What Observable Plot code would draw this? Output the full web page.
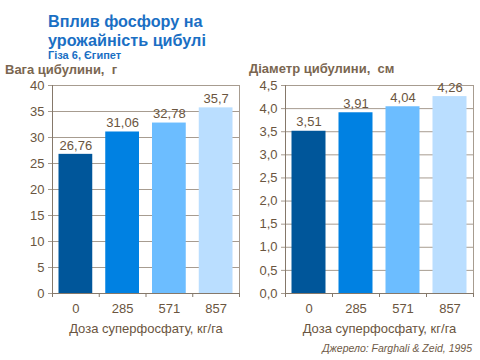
<!DOCTYPE html>
<html>
<head>
<meta charset="utf-8">
<script src="https://cdn.jsdelivr.net/npm/d3@7"></script>
<script src="https://cdn.jsdelivr.net/npm/@observablehq/plot@0.6"></script>
<style>
  html, body { margin: 0; padding: 0; background: #fff; }
  #root { position: relative; width: 480px; height: 360px; overflow: hidden; font-family: "Liberation Sans", Arial, sans-serif; }
  .abs { position: absolute; white-space: nowrap; }
  #title { left: 48px; top: 12px; font-size: 16.2px; font-weight: bold; color: #1A6FC4; line-height: 18.5px; }
  #subtitle { left: 48px; top: 49px; font-size: 11px; font-weight: bold; color: #1A6FC4; line-height: 12px; }
  .ylab { font-size: 13px; font-weight: bold; color: #7A6650; }
  #source { right: 8px; top: 342px; font-size: 10.5px; font-style: italic; color: #6E5A46; }
  .chart { position: absolute; top: 80px; }
</style>
</head>
<body>
<div id="root">
  <div id="title" class="abs">Вплив фосфору на<br>урожайність цибулі</div>
  <div id="subtitle" class="abs">Гіза 6, Єгипет</div>
  <div class="abs ylab" style="left:5px; top:62px;">Вага цибулини,&nbsp; г</div>
  <div class="abs ylab" style="left:249px; top:61px;">Діаметр цибулини,&nbsp; см</div>
  <div id="left" class="chart" style="left:0px;"></div>
  <div id="right" class="chart" style="left:240px;"></div>
  <div id="source" class="abs">Джерело: Farghali &amp; Zeid, 1995</div>
</div>
<script>
const doses = ["0", "285", "571", "857"];
const weight = [26.76, 31.06, 32.78, 35.7];
const diameter = [3.51, 3.91, 4.04, 4.26];
const weightTicks = [0, 5, 10, 15, 20, 25, 30, 35, 40];
const diameterTicks = [0, 0.5, 1, 1.5, 2, 2.5, 3, 3.5, 4, 4.5];
const xTitle = "Доза суперфосфату, кг/га";

const barColors = ["#00569A", "#0081E2", "#6CBDFF", "#BADEFF"];
const textColor = "#6A5540";
const gridColor = "#A79C90";
const axisColor = "#85786A";

function chart(values, ticks, yFmt, width, ml, mr) {
  const data = doses.map((d, i) => ({dose: d, i, v: values[i], label: String(values[i]).replace(".", ",")}));
  const yMax = ticks[ticks.length - 1];
  return Plot.plot({
    width, height: 260,
    marginLeft: ml, marginRight: mr, marginTop: 5, marginBottom: 47,
    style: {fontFamily: "'Liberation Sans', Arial, sans-serif", fontSize: "13px", color: textColor, background: "transparent", overflow: "visible"},
    x: {type: "linear", domain: [0, 4]},
    y: {domain: [0, yMax]},
    color: {domain: doses, range: barColors},
    marks: [
      Plot.ruleY(ticks, {stroke: gridColor}),
      Plot.frame({stroke: gridColor}),
      Plot.rectY(data, {x1: d => d.i, x2: d => d.i + 1, y: "v", fill: "dose", insetLeft: 6.5, insetRight: 6.5}),
      Plot.text(data, {x: d => d.i + 0.5, y: "v", text: "label", dy: -9, fill: textColor, fontSize: 13}),
      Plot.axisY({ticks, tickFormat: yFmt, tickSize: 4, tickPadding: 4, stroke: gridColor, label: null}),
      Plot.axisX({ticks: [0, 1, 2, 3, 4], tickFormat: () => "", tickSize: 4, stroke: axisColor, label: null}),
      Plot.axisX({ticks: [0.5, 1.5, 2.5, 3.5], tickFormat: t => doses[Math.floor(t)], tickSize: 0, tickPadding: 10,
                  label: xTitle, labelAnchor: "center", labelOffset: 39, labelArrow: "none"}),
      Plot.ruleY([0], {stroke: axisColor}),
      Plot.ruleX([0], {stroke: axisColor})
    ]
  });
}

document.getElementById("left").append(chart(weight, weightTicks, d => String(d), 245, 52, 6));
document.getElementById("right").append(chart(diameter, diameterTicks, d => d.toFixed(1).replace(".", ","), 240, 45, 7));
</script>
</body>
</html>
